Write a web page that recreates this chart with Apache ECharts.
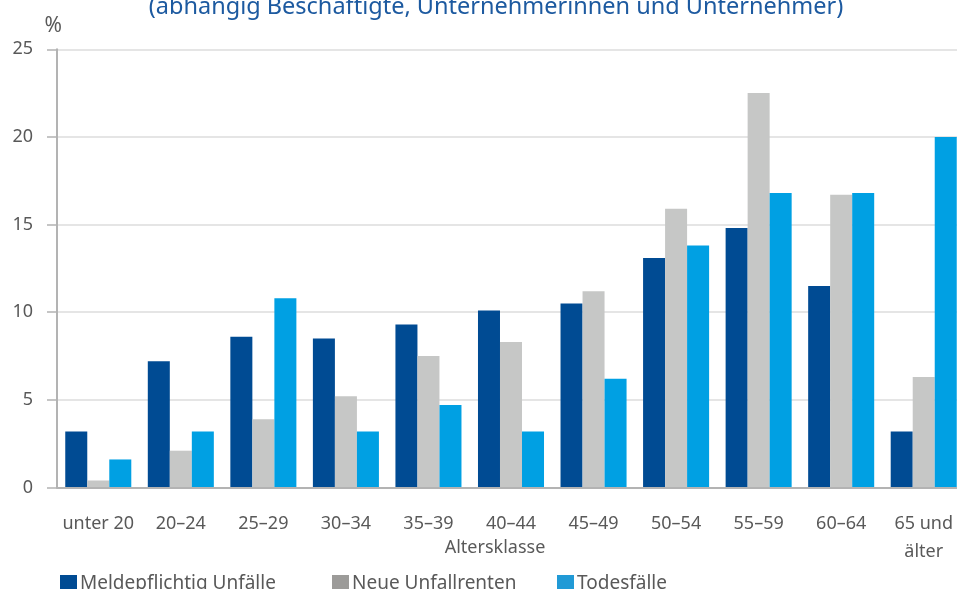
<!DOCTYPE html>
<html>
<head>
<meta charset="utf-8">
<script src="https://cdn.jsdelivr.net/npm/echarts@6/dist/echarts.min.js"></script>
<style>
  html, body { margin: 0; padding: 0; background: #fff; }
  #chart { width: 957px; height: 589px; }
</style>
</head>
<body>
<div id="chart"></div>
<script>
  // Altersklassen
  const categories = ['unter 20', '20–24', '25–29', '30–34', '35–39', '40–44',
    '45–49', '50–54', '55–59', '60–64', '65 und\nälter']
  // Anteile in %
  const meldepflichtig = [3.2, 7.2, 8.6, 8.5, 9.3, 10.1, 10.5, 13.1, 14.8, 11.5, 3.2]
  const unfallrenten = [0.4, 2.1, 3.9, 5.2, 7.5, 8.3, 11.2, 15.9, 22.5, 16.7, 6.3]
  const todesfaelle = [1.6, 3.2, 10.8, 3.2, 4.7, 3.2, 6.2, 13.8, 16.8, 16.8, 20.0]
  const yTicks = [0, 5, 10, 15, 20, 25]

  const font = 'Noto Sans'
  const textGray = '#595959'

  let chart = echarts.init(document.getElementById('chart'))

  function legendAt (left, name, color) {
    return {
      left: left,
      top: 569,
      itemWidth: 17,
      itemHeight: 17,
      icon: 'rect',
      data: [{ name: name, itemStyle: { color: color } }],
      textStyle: { fontFamily: font, fontSize: 19, color: textGray, padding: [0, 0, 0, -2] }
    }
  }

  let option = {
    animation: false,
    legend: [
      legendAt(55, 'Meldepflichtig Unfälle', '#004b93'),
      legendAt(327, 'Neue Unfallrenten', '#9c9b99'),
      legendAt(552, 'Todesfälle', '#219ad6')
    ],
    graphic: [
      {
        type: 'text',
        x: 496,
        y: 7,
        style: {
          text: '(abhängig Beschäftigte, Unternehmerinnen und Unternehmer)',
          font: '23.5px "Noto Sans"',
          fill: '#1d5aa0',
          textAlign: 'center',
          textVerticalAlign: 'middle'
        }
      },
      {
        type: 'text',
        x: 495,
        y: 548,
        style: {
          text: 'Altersklasse',
          font: '18px "Noto Sans"',
          fill: textGray,
          textAlign: 'center',
          textVerticalAlign: 'middle'
        }
      }
    ],
    grid: { left: 57, width: 908, top: 49.3, height: 438.2, outerBoundsMode: 'none' },
    xAxis: {
      type: 'category',
      data: categories,
      z: 3,
      axisLine: { lineStyle: { color: '#b3b3b3', width: 2 } },
      axisTick: { alignWithLabel: true, inside: true, length: 5, lineStyle: { color: '#9a9a9a', width: 1.5 } },
      axisLabel: {
        interval: 0,
        margin: 22,
        fontFamily: font,
        fontSize: 18,
        lineHeight: 28,
        color: textGray
      }
    },
    yAxis: {
      type: 'value',
      min: yTicks[0],
      max: yTicks[yTicks.length - 1],
      interval: 5,
      name: '%',
      nameGap: 13,
      nameTextStyle: { fontFamily: font, fontSize: 21, color: textGray, align: 'right', padding: [0, -5, 0, 0] },
      axisLine: { show: true, lineStyle: { color: '#b3b3b3', width: 2 } },
      axisTick: { show: true, length: 10, lineStyle: { color: '#b3b3b3', width: 1.5 } },
      axisLabel: { margin: 24, fontFamily: font, fontSize: 18, color: textGray },
      splitLine: { lineStyle: { color: '#dcdcdc', width: 1.5 } }
    },
    series: [
      {
        name: 'Meldepflichtig Unfälle',
        type: 'bar',
        data: meldepflichtig,
        barGap: '0%',
        barCategoryGap: '20%',
        itemStyle: { color: '#004b93' }
      },
      {
        name: 'Neue Unfallrenten',
        type: 'bar',
        data: unfallrenten,
        itemStyle: { color: '#c6c7c6' }
      },
      {
        name: 'Todesfälle',
        type: 'bar',
        data: todesfaelle,
        itemStyle: { color: '#00a0e3' }
      }
    ]
  }
  chart.setOption(option)
</script>
</body>
</html>
